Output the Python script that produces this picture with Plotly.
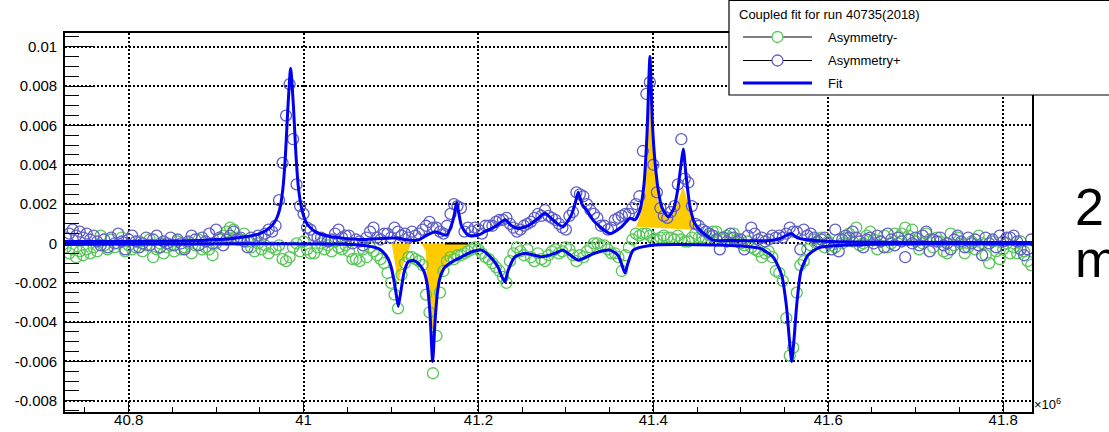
import plotly.graph_objects as go

# ---------------- data (frequency in MHz, asymmetry in units of 1e-4) ----------------
x_start = 40.728
x_step = 0.004
n_pts = 277
freq_mhz = [round(x_start + x_step * i, 4) for i in range(n_pts)]

asym_plus_e4 = [
    3, 5, 7, 4, 6, 3, 5, 2, 4, 1,
    -1, 2, -2, 3, 0, 5, 1, -3, 2, 4,
    1, -2, 0, 3, -1, 2, 4, -2, 1, 0,
    3, -1, 2, 0, -3, 1, 4, 2, -1, 3,
    1, 5, 0, 7, 3, -1, 2, 4, 6, 2,
    3, 1, -2, 3, 2, 4, 3, 5, 7, 6,
    9, 22, 41, 65, 81, 53, 30, 19, 15, 8,
    7, 4, 3, 3, 2, 1, 2, 5, 7, 3,
    4, 4, 0, 2, 1, -1, 3, 6, 8, 3,
    2, 5, 5, 3, 8, 6, 4, 5, 3, 6,
    4, 5, 7, 9, 11, 8, 8, 6, 5, 9,
    15, 20, 19, 18, 6, 8, 6, 8, 7, 5,
    9, 9, 9, 11, 12, 12, 13, 10, 8, 6,
    7, 9, 10, 11, 13, 15, 14, 17, 14, 13,
    12, 10, 8, 7, 14, 16, 26, 25, 24, 20,
    17, 15, 13, 9, 9, 7, 8, 12, 13, 14,
    15, 15, 18, 20, 24, 47, 76, 82, 40, 26,
    18, 14, 13, 16, 19, 30, 53, 33, 31, 19,
    10, 9, 7, 6, 5, 4, 2, -3, 3, 1,
    5, 3, 1, 2, -3, 4, 8, 5, 2, 3,
    1, 2, 4, 3, 4, 3, 5, 8, 6, 6,
    -3, 7, 4, 5, 3, 1, 2, 3, 0, -3,
    7, -4, 2, 4, 3, 6, 3, 1, -2, 2,
    3, 0, 4, 1, -2, 5, 2, -1, 3, 1,
    -7, 2, 0, 3, -1, 4, 6, -4, 2, 1,
    3, -1, 0, -3, 2, 4, 1, -2, 3, 0,
    2, -1, -6, 3, 0, 2, -2, 4, 1, 3,
    3, 4, 1, -3, -6, -3, 2,
]

asym_minus_e4 = [
    -2, -5, -3, -7, -4, -6, -3, -5, -2, -4,
    4, -1, -3, 2, -2, 0, 3, -4, -1, -3,
    -2, 1, -4, -1, 2, -7, -3, 0, -5, -2,
    -1, -4, 1, -3, -2, 0, -5, -1, 2, -3,
    -2, -3, -6, 0, 2, 4, 6, 8, 7, 3,
    2, 5, 1, -2, -4, 0, -3, -1, -5, -2,
    -3, -1, -8, -9, -7, -2, 0, -4, 1, -3,
    -5, -5, -2, 0, -3, -1, -4, 1, -2, -3,
    -1, -4, -8, -8, -9, -3, -7, -2, -4, -6,
    -8, -10, -15, -20, -26, -33, -16, -10, -7, -7,
    -8, -9, -11, -26, -35, -66, -47, -25, -14, -9,
    -7, -8, -6, -6, -5, -4, -3, -2, -3, -5,
    -7, -8, -10, -12, -14, -17, -20, -9, -5, -2,
    -4, -6, -3, -7, -9, -5, -8, -9, -6, -4,
    -3, -5, -4, -2, -3, -6, -9, -6, -7, -4,
    -2, 0, 0, -1, -1, -3, -5, -5, -7, -14,
    -6, -2, 2, 5, 4, 5, 5, 4, 2, 2,
    3, 4, 3, 3, 2, 4, 2, 1, 1, 3,
    5, 3, 3, 2, 4, 6, 6, 3, 2, 4,
    3, 5, 2, 0, -1, 1, -2, -3, -4, -7,
    -5, -4, -7, -14, -15, -19, -38, -57, -53, -25,
    -11, -9, -3, -1, 2, 0, 3, -2, 1, -1,
    -2, 2, 0, 3, 5, 1, 8, -1, 0, 4,
    6, 2, -3, 1, 4, -2, 0, 5, 3, 5,
    8, 4, 7, 1, -3, 0, 5, 2, -2, 3,
    1, -4, -5, 5, -1, 3, 0, -5, -2, 1,
    -3, 4, 0, -6, -10, 1, -4, -8, -3, 0,
    -5, -2, -5, 1, -4, -9, -11,
]

# fit curves
fit_plus_x = [40.7272, 40.8815, 40.9273, 40.9501, 40.9616, 40.9684, 40.9730, 40.9764, 40.9793, 40.9822,
              40.9852, 40.9884, 40.9913, 40.9942, 40.9982, 41.0039, 41.0130, 41.0302, 41.0645, 41.0931,
              41.1080, 41.1194, 41.1308, 41.1423, 41.1503, 41.1636, 41.1697, 41.1726, 41.1751, 41.1777,
              41.1806, 41.1880, 41.1994, 41.2074, 41.2189, 41.2303, 41.2380, 41.2452, 41.2566, 41.2680,
              41.2760, 41.2875, 41.2966, 41.3058, 41.3104, 41.3141, 41.3184, 41.3237, 41.3309, 41.3389,
              41.3504, 41.3638, 41.3732, 41.3790, 41.3847, 41.3893, 41.3927, 41.3961, 41.3990, 41.4018,
              41.4053, 41.4095, 41.4170, 41.4236, 41.4281, 41.4316, 41.4342, 41.4373, 41.4419, 41.4476,
              41.4533, 41.4682, 41.4876, 41.5333, 41.5448, 41.5516, 41.5582, 41.5642, 41.5734, 41.6020,
              41.8330]
fit_plus_e4 = [1, 1.5, 3, 5, 8, 12, 18, 28, 45, 70,
               89, 70, 45, 28, 17, 10, 6, 3.5, 2, 2.7,
               2.7, 1.7, 1.7, 4.5, 6, 4.2, 10, 15, 21, 15,
               9, 4.2, 4.2, 6, 8.5, 12, 9, 7.6, 9, 12.7,
               15.3, 11, 8.5, 14, 20, 26, 20, 17, 12, 8.5,
               5, 8.5, 12.8, 12, 17, 30, 55, 95, 60, 42,
               28, 18.6, 13.5, 18, 28, 40, 48, 35, 18.6, 10,
               6.8, 1.7, 1.5, 1.5, 2.5, 4, 5, 3, 2, 1,
               0.5]

fit_minus_x = [40.7272, 41.0531, 41.0760, 41.0874, 41.0942, 41.0988, 41.1022, 41.1057, 41.1083, 41.1114,
               41.1148, 41.1194, 41.1254, 41.1308, 41.1369, 41.1411, 41.1445, 41.1476, 41.1503, 41.1531,
               41.1560, 41.1617, 41.1694, 41.1808, 41.1941, 41.2037, 41.2151, 41.2223, 41.2269, 41.2303,
               41.2337, 41.2417, 41.2532, 41.2723, 41.2875, 41.2966, 41.3141, 41.3327, 41.3504, 41.3595,
               41.3641, 41.3675, 41.3710, 41.3770, 41.3961, 41.4339, 41.5219, 41.5371, 41.5467, 41.5522,
               41.5554, 41.5582, 41.5610, 41.5642, 41.5688, 41.5768, 41.5905, 41.8330]
fit_minus_e4 = [-0.5, -0.5, -1.5, -3, -6, -10, -16, -25, -32, -24,
                -15, -9.5, -8.5, -10, -13.5, -20, -35, -60, -40, -25,
                -17.5, -12, -9.4, -6.8, -4, -3.4, -7.6, -12, -17, -19.5,
                -14, -6.8, -5, -6.8, -5, -3.4, -8.5, -5, -3.4, -6,
                -11, -15, -10, -3.4, -1, -0.5, -2.5, -7, -16, -32,
                -48, -60, -48, -30, -14, -6, -2, -0.3]

# yellow shaded regions
fill1_x = [41.1007, 41.1228, 41.1194, 41.1122, 41.1083, 41.1045, 41.1007]
fill1_e4 = [0, 0, -4.3, -12.6, -20, -11, 0]
fill2_x = [41.1350, 41.1883, 41.1883, 41.1808, 41.1694, 41.1579, 41.1540, 41.1503, 41.1483, 41.1445,
           41.1408, 41.1400, 41.1350]
fill2_e4 = [0, 0, -0.9, -3.4, -6.8, -12.7, -21, -43, -44, -41.5, -21, -4.3, 0]
fill3_x = [41.3802, 41.3847, 41.3893, 41.3927, 41.3955, 41.3973, 41.3995, 41.4018, 41.4053, 41.4099,
           41.4167, 41.4236, 41.4293, 41.4339, 41.4373, 41.4419, 41.4464, 41.4499, 41.3802]
fill3_e4 = [8.5, 14, 27, 52, 73, 75, 58, 37, 22, 16,
            13, 17, 23, 29, 24, 16, 9, 6.8, 8.5]
edge_x = [41.1617, 41.1883]
edge_e4 = [0, 0]

x_tick_vals = [40.8, 41.0, 41.2, 41.4, 41.6, 41.8]
x_tick_text = ["40.8", "41", "41.2", "41.4", "41.6", "41.8"]
y_tick_vals = [-0.008, -0.006, -0.004, -0.002, 0.0, 0.002, 0.004, 0.006, 0.008, 0.01]
y_tick_text = ["-0.008", "-0.006", "-0.004", "-0.002", "0", "0.002", "0.004", "0.006", "0.008", "0.01"]

legend_title = "Coupled fit for run 40735(2018)"
legend_labels = ["Asymmetry-", "Asymmetry+", "Fit"]

# ---------------- styling ----------------
GREEN = "#58c658"
PURPLE = "#5e5ec8"
FITBLUE = "#0000f0"
YELLOW = "#ffcc00"
FONT = "Liberation Sans, Arial, Helvetica, sans-serif"

E4 = 1e-4
def sc(v):
    return [a * E4 for a in v]

fig = go.Figure()
for fx, fy in [(fill1_x, fill1_e4), (fill2_x, fill2_e4), (fill3_x, fill3_e4)]:
    fig.add_trace(go.Scatter(x=fx, y=sc(fy), mode="lines", fill="toself",
                             fillcolor=YELLOW, line=dict(width=0, color=YELLOW),
                             hoverinfo="skip", showlegend=False))
fig.add_trace(go.Scatter(x=edge_x, y=sc(edge_e4), mode="lines",
                         line=dict(color="black", width=2), showlegend=False))
fig.add_trace(go.Scatter(x=freq_mhz, y=sc(asym_minus_e4), mode="markers",
                         marker=dict(symbol="circle-open", size=11, color=GREEN,
                                     line=dict(width=1.3, color=GREEN)),
                         showlegend=False))
fig.add_trace(go.Scatter(x=freq_mhz, y=sc(asym_plus_e4), mode="markers",
                         marker=dict(symbol="circle-open", size=11, color=PURPLE,
                                     line=dict(width=1.3, color=PURPLE)),
                         showlegend=False))
fig.add_trace(go.Scatter(x=fit_plus_x, y=sc(fit_plus_e4), mode="lines",
                         line=dict(color=FITBLUE, width=3, shape="spline", smoothing=0.6),
                         showlegend=False))
fig.add_trace(go.Scatter(x=fit_minus_x, y=sc(fit_minus_e4), mode="lines",
                         line=dict(color=FITBLUE, width=3, shape="spline", smoothing=0.6),
                         showlegend=False))

W, H = 1109, 432
ML, MR, MT, MB = 65, 77, 33, 20
PW, PH = W - ML - MR, H - MT - MB

def pxx(x):
    return (x - ML) / PW

def pxy(y):
    return (H - MB - y) / PH

x_minor = [round(40.75 + 0.05 * k, 3) for k in range(22)]
y_minor = [round(-0.0085 + 0.0005 * k, 5) for k in range(39)]

axis_common = dict(
    showline=True, linecolor="black", linewidth=1.6, mirror=True,
    ticks="inside", tickcolor="black", tickwidth=1,
    showgrid=True, gridcolor="black", gridwidth=1.5, griddash="2px,2px",
    zeroline=False,
    tickfont=dict(family=FONT, size=15, color="black"),
)

fig.update_layout(
    width=W, height=H,
    margin=dict(l=ML, r=MR, t=MT, b=MB, autoexpand=False),
    paper_bgcolor="white", plot_bgcolor="white",
    showlegend=False,
    xaxis=dict(range=[40.7272, 41.833], tickmode="array", tickvals=x_tick_vals,
               ticktext=x_tick_text, ticklen=11, ticklabelstandoff=-7,
               minor=dict(tickmode="array", tickvals=x_minor, ticks="inside", ticklen=5.5,
                          tickcolor="black", showgrid=False),
               **axis_common),
    yaxis=dict(range=[-0.00857, 0.0107], tickmode="array", tickvals=y_tick_vals,
               ticktext=y_tick_text, ticklen=28, ticklabelstandoff=3,
               minor=dict(tickmode="array", tickvals=y_minor, ticks="inside", ticklen=14,
                          tickcolor="black", showgrid=False),
               **axis_common),
)

shapes = []
annotations = []
# legend box
shapes.append(dict(type="rect", xref="paper", yref="paper", layer="above",
                   x0=pxx(729), x1=pxx(1120), y0=pxy(95), y1=pxy(0.5),
                   line=dict(color="black", width=1.2), fillcolor="white"))
annotations.append(dict(xref="paper", yref="paper", x=pxx(737), y=pxy(14.5),
                        xanchor="left", yanchor="middle", showarrow=False,
                        text=legend_title, font=dict(family=FONT, size=13, color="black")))
row_y = [37, 60.5, 83]
row_col = [GREEN, PURPLE, None]
for ry, col, lab in zip(row_y, row_col, legend_labels):
    if col is not None:
        shapes.append(dict(type="line", xref="paper", yref="paper", layer="above",
                           x0=pxx(743), x1=pxx(812), y0=pxy(ry), y1=pxy(ry),
                           line=dict(color="black", width=1)))
        shapes.append(dict(type="circle", xref="paper", yref="paper", layer="above",
                           xsizemode="pixel", ysizemode="pixel",
                           xanchor=pxx(777.5), yanchor=pxy(ry),
                           x0=-5.5, x1=5.5, y0=-5.5, y1=5.5,
                           line=dict(color=col, width=1.3), fillcolor="white"))
    else:
        shapes.append(dict(type="line", xref="paper", yref="paper", layer="above",
                           x0=pxx(743), x1=pxx(812), y0=pxy(ry), y1=pxy(ry),
                           line=dict(color=FITBLUE, width=3)))
    annotations.append(dict(xref="paper", yref="paper", x=pxx(826), y=pxy(ry),
                            xanchor="left", yanchor="middle", showarrow=False,
                            text=lab, font=dict(family=FONT, size=13, color="black")))

# exponent label
annotations.append(dict(xref="paper", yref="paper", x=pxx(1032), y=pxy(404),
                        xanchor="left", yanchor="middle", showarrow=False,
                        text="\u00d710<sup>6</sup>", font=dict(family=FONT, size=13, color="black")))
# cut-off large text at right
annotations.append(dict(xref="paper", yref="paper", x=pxx(1073), y=pxy(207),
                        xanchor="left", yanchor="middle", showarrow=False,
                        text="2", font=dict(family=FONT, size=52, color="black")))
annotations.append(dict(xref="paper", yref="paper", x=pxx(1073), y=pxy(259),
                        xanchor="left", yanchor="middle", showarrow=False,
                        text="m", font=dict(family=FONT, size=52, color="black")))

fig.update_layout(shapes=shapes, annotations=annotations)

fig.write_html("out.html", config={"displayModeBar": False})
